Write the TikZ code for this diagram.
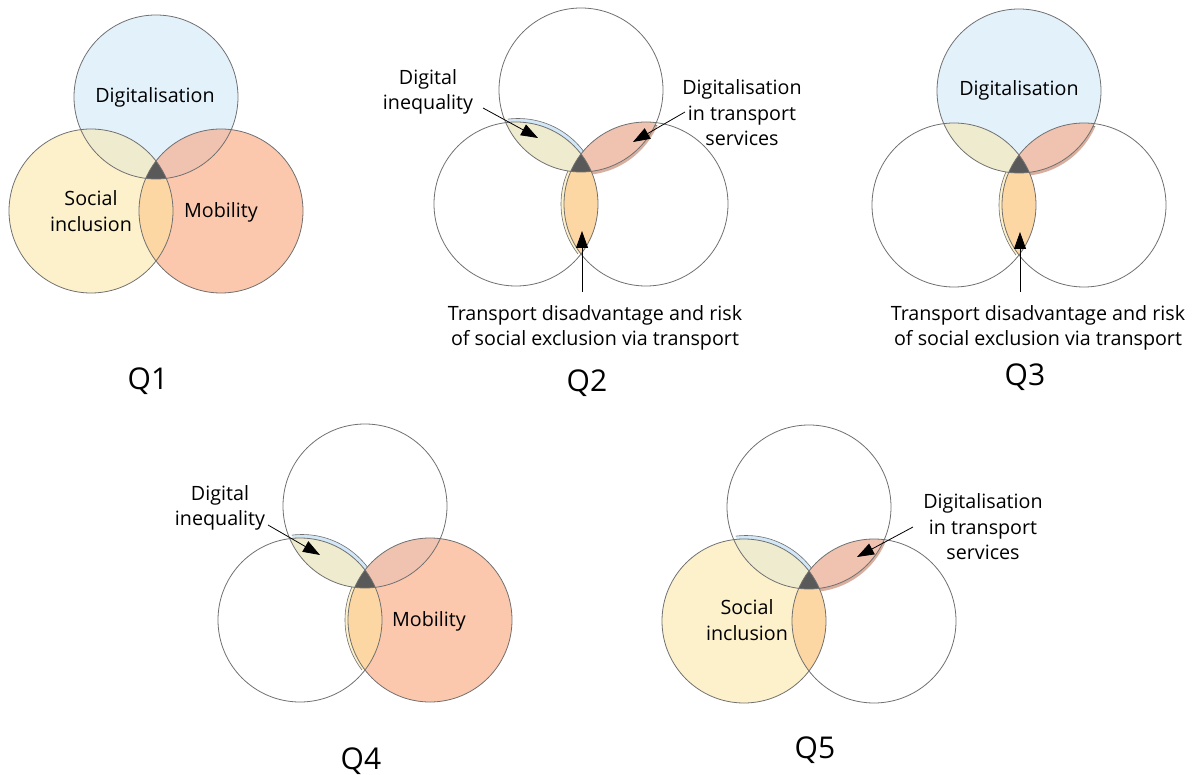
\documentclass[tikz,border=0pt]{standalone}
\usepackage{fontspec}
\setmainfont{Open Sans}
\usetikzlibrary{arrows.meta}

\definecolor{digi}{HTML}{E3F1FB}
\definecolor{digiedge}{HTML}{D2E8F8}
\definecolor{soc}{HTML}{FDF1CC}
\definecolor{mob}{HTML}{FBC8AE}
\definecolor{lensds}{HTML}{EFEBCF}
\definecolor{lensdm}{HTML}{F0C2B0}
\definecolor{lenssm}{HTML}{FDD7A3}
\definecolor{core}{HTML}{595959}
\definecolor{ring}{HTML}{707070}

% three circles of one panel, drawn round (0,0) = centre of the top circle
\newcommand{\vennq}[6]{%
  \fill[#1] (0,0) circle[radius=82pt];
  \fill[#2] (-65,114) circle[radius=82pt];
  \fill[#3] (65,114) circle[radius=82pt];
  \begin{scope}[shift={(2,-3.5)}]
    \clip (0,0) circle[radius=82pt];
    \filldraw[#4] (-65,114) circle[radius=82pt];
  \end{scope}
  \begin{scope}[shift={(1,3)}]
    \clip (0,0) circle[radius=82pt];
    \filldraw[#5] (65,114) circle[radius=82pt];
  \end{scope}
  \begin{scope}[shift={(-3,0)}]
    \clip (-65,114) circle[radius=82pt];
    \filldraw[#6] (65,114) circle[radius=82pt];
  \end{scope}
  \begin{scope}
    \clip (0,0) circle[radius=82pt];
    \fill[lensds] (-65,114) circle[radius=82pt];
  \end{scope}
  \begin{scope}
    \clip (0,0) circle[radius=82pt];
    \fill[lensdm] (65,114) circle[radius=82pt];
  \end{scope}
  \begin{scope}
    \clip (-65,114) circle[radius=82pt];
    \fill[lenssm] (65,114) circle[radius=82pt];
  \end{scope}
  \begin{scope}
    \clip (0,0) circle[radius=82pt];
    \clip (-65,114) circle[radius=82pt];
    \fill[core] (65,114) circle[radius=82pt];
  \end{scope}
  \draw[ring, line width=0.8pt] (0,0) circle[radius=82pt];
  \draw[ring, line width=0.8pt] (-65,114) circle[radius=82pt];
  \draw[ring, line width=0.8pt] (65,114) circle[radius=82pt];
}

\begin{document}
\begin{tikzpicture}[x=1pt,y=-1pt,
  txt/.style={align=center,inner sep=0pt,font=\fontsize{19.7}{25.5}\selectfont},
  qlabel/.style={inner sep=0pt,font=\fontsize{30}{36}\selectfont},
  pointer/.style={-{Triangle[length=17pt,width=12pt]},line width=0.8pt},
  blueslv/.style={fill=digiedge,draw=ring,line width=0.6pt},
  redslv/.style={fill=lensdm!90!black,draw=ring,line width=0.6pt},
  orslv/.style={fill=soc,draw=ring,line width=0.6pt},
  noslv/.style={opacity=0}]
\useasboundingbox (0,0) rectangle (1195,775);

% Q1
\begin{scope}[shift={(156,97)}]
\vennq{digi}{soc}{mob}{noslv}{noslv}{noslv}
\end{scope}
\node (d1) at (155,97) [txt] {Digitalisation};
\node (s1) at (91,211) [txt] {Social\\inclusion};
\node (m1) at (221,212) [txt] {Mobility};
\node (q1) at (148,381) [qlabel] {Q1};

% Q2
\begin{scope}[shift={(581,90)}]
\vennq{white}{white}{white}{blueslv}{redslv}{orslv}
\end{scope}
\node (di2) at (428,92) [txt] {Digital\\inequality};
\node (dt2) at (742,113) [txt] {Digitalisation\\in transport\\services};
\node (tr2) at (595,328) [txt] {Transport disadvantage and risk\\of social exclusion via transport};
\node (q2) at (587,383) [qlabel] {Q2};
\coordinate (di2s) at (483,108);
\coordinate (di2e) at (538,138);
\coordinate (dt2s) at (685,112);
\coordinate (dt2e) at (633,142);
\coordinate (tr2s) at (582,292);
\coordinate (tr2e) at (582,231);
\draw [pointer] (di2s) -- (di2e);
\draw [pointer] (dt2s) -- (dt2e);
\draw [pointer] (tr2s) -- (tr2e);

% Q3
\begin{scope}[shift={(1019,91)}]
\vennq{digi}{white}{white}{noslv}{redslv}{orslv}
\end{scope}
\node (d3) at (1019,90) [txt] {Digitalisation};
\node (tr3) at (1038,328) [txt] {Transport disadvantage and risk\\of social exclusion via transport};
\node (q3) at (1025,377) [qlabel] {Q3};
\coordinate (tr3s) at (1020,292);
\coordinate (tr3e) at (1020,232);
\draw [pointer] (tr3s) -- (tr3e);

% Q4
\begin{scope}[shift={(365,506)}]
\vennq{white}{white}{mob}{blueslv}{noslv}{orslv}
\end{scope}
\node (di4) at (220,508) [txt] {Digital\\inequality};
\node (m4) at (429,621) [txt] {Mobility};
\node (q4) at (361,761) [qlabel] {Q4};
\coordinate (di4s) at (268,525);
\coordinate (di4e) at (320,555);
\draw [pointer] (di4s) -- (di4e);

% Q5
\begin{scope}[shift={(809,507)}]
\vennq{white}{soc}{white}{blueslv}{redslv}{noslv}
\end{scope}
\node (s5) at (747,620) [txt] {Social\\inclusion};
\node (dt5) at (983,527) [txt] {Digitalisation\\in transport\\services};
\node (q5) at (815,750) [qlabel] {Q5};
\coordinate (dt5s) at (913,527);
\coordinate (dt5e) at (857,557);
\draw [pointer] (dt5s) -- (dt5e);
\end{tikzpicture}
\end{document}
